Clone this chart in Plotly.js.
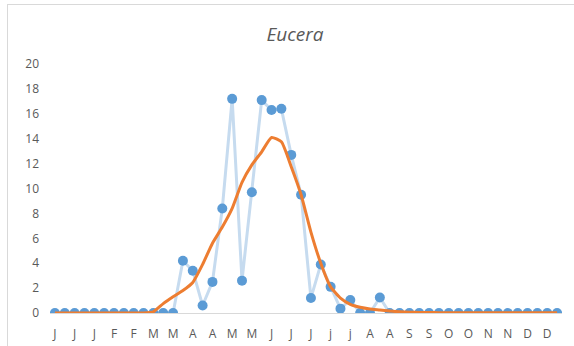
<!DOCTYPE html>
<html>
<head>
<meta charset="utf-8">
<script src="https://cdn.plot.ly/plotly-3.0.1.min.js"></script>
<style>
  html, body { margin: 0; padding: 0; background: #fff; }
  #wrap { position: relative; width: 574px; height: 346px; }
  #chart { width: 574px; height: 346px; }
  #frame { position: absolute; left: 7px; top: 4px; width: 580px; height: 360px;
           border-left: 1px solid #d9d9d9; border-top: 1px solid #d9d9d9; pointer-events: none; }
</style>
</head>
<body>
<div id="wrap">
  <div id="chart"></div>
  <div id="frame"></div>
</div>
<script>
// Week index (52 weeks of the year)
const weeks = Array.from({length: 52}, (_, i) => i);

// Tick labels shown on every other week
const tickWeeks = [0,2,4,6,8,10,12,14,16,18,20,22,24,26,28,30,32,34,36,38,40,42,44,46,48,50];
const tickLabels = ["J","J","J","F","F","M","M","A","A","M","M","J","J","J","j","j","A","A","S","S","O","O","N","N","D","D"];

// Observed counts (blue points)
const observed = [
  0, 0, 0, 0, 0, 0, 0, 0, 0, 0,
  0, 0, 0, 4.2, 3.4, 0.6, 2.5, 8.4, 17.2, 2.6,
  9.7, 17.1, 16.3, 16.4, 12.7, 9.5, 1.2, 3.9, 2.1, 0.35,
  1.05, 0, 0, 1.25, 0, 0, 0, 0, 0, 0,
  0, 0, 0, 0, 0, 0, 0, 0, 0, 0,
  0, 0
];

// Smoothed trend (orange line)
const trend = [
  0, 0, 0, 0, 0, 0, 0, 0, 0, 0,
  0.1, 0.75, 1.3, 1.8, 2.45, 3.9, 5.6, 6.9, 8.4, 10.5,
  11.9, 12.95, 14.1, 13.75, 11.75, 9.5, 6.5, 4.0, 2.1, 1.2,
  0.7, 0.46, 0.32, 0.24, 0.16, 0.1, 0.07, 0.05, 0.04, 0.03,
  0.02, 0.02, 0.02, 0.02, 0.02, 0.02, 0.02, 0.02, 0.02, 0.02,
  0.02, 0.02
];

const yTicks = [0,2,4,6,8,10,12,14,16,18,20];

const font = "'Open Sans', 'Liberation Sans', sans-serif";

const data = [
  {
    x: weeks, y: observed, type: 'scatter', mode: 'lines+markers',
    line: {color: '#c6dbef', width: 3},
    marker: {color: '#5b9bd5', size: 10},
    hoverinfo: 'skip', showlegend: false
  },
  {
    x: weeks, y: trend, type: 'scatter', mode: 'lines',
    line: {color: '#ed7d31', width: 3, shape: 'spline', smoothing: 0.5},
    hoverinfo: 'skip', showlegend: false
  }
];

const layout = {
  width: 574, height: 346,
  margin: {l: 50, r: 12, t: 64, b: 33},
  paper_bgcolor: '#ffffff', plot_bgcolor: '#ffffff',
  title: {
    text: '<i>Eucera</i>',
    font: {family: font, size: 19, color: '#595959'},
    x: 0.514, xanchor: 'center', y: 0.902, yanchor: 'middle'
  },
  xaxis: {
    range: [-0.5, 51.5],
    tickmode: 'array', tickvals: tickWeeks, ticktext: tickLabels,
    showgrid: false, zeroline: false,
    showline: true, linecolor: '#d9d9d9', linewidth: 1,
    ticks: '', tickangle: 0,
    ticklabelstandoff: 10,
    tickfont: {family: font, size: 12, color: '#595959'},
    fixedrange: true
  },
  yaxis: {
    range: [0, 20],
    tickmode: 'array', tickvals: yTicks,
    showgrid: false, zeroline: false, showline: false,
    ticks: '',
    ticklabelstandoff: 10,
    tickfont: {family: font, size: 12, color: '#595959'},
    fixedrange: true
  }
};

Plotly.newPlot('chart', data, layout, {staticPlot: true, displayModeBar: false});
</script>
</body>
</html>
